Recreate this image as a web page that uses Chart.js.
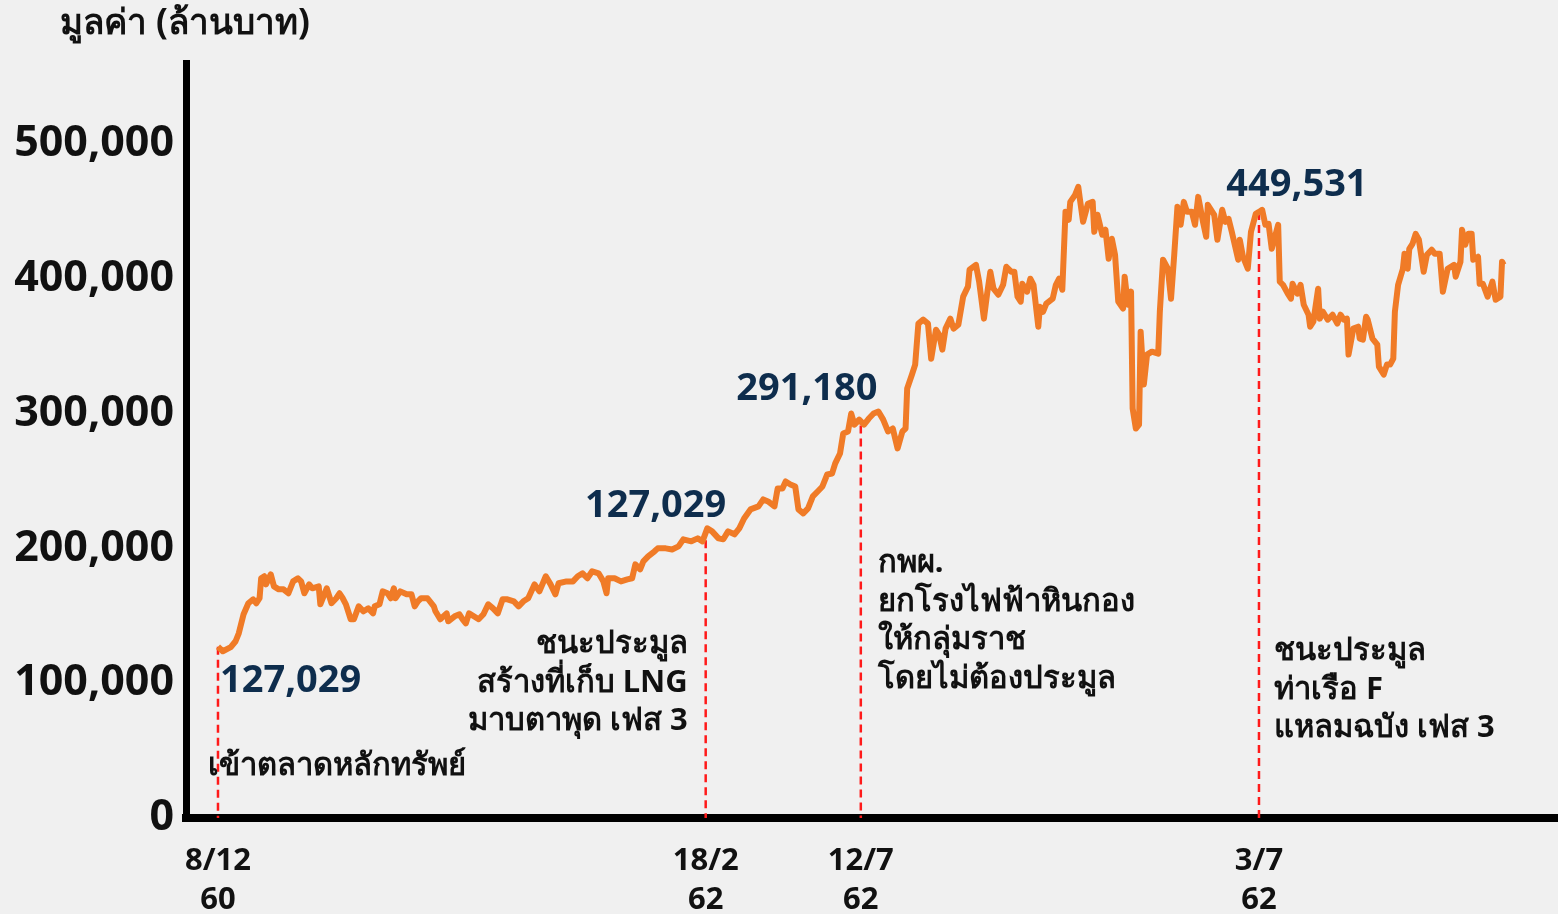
<!DOCTYPE html>
<html>
<head>
<meta charset="utf-8">
<script src="https://cdn.jsdelivr.net/npm/chart.js@4/dist/chart.umd.min.js"></script>
<style>
  html, body { margin: 0; padding: 0; background: #f0f0f0; }
  #wrap { width: 1558px; height: 914px; }
</style>
</head>
<body>
<div id="wrap"><canvas id="chart"></canvas></div>
<script>
// trading days since listing (8/12/60) and market value (million baht)
days = [0,3,8,11,13,16,19,22,24,26,27,29,30,33,35,38,41,44,47,50,52,54,57,59,63,64,68,71,74,76,78,80,83,85,88,91,94,97,98,101,103,106,108,110,111,114,118,121,123,125,127,131,135,
  136,139,143,144,148,151,153,155,157,160,163,166,169,172,175,178,181,185,188,191,194,198,201,205,208,211,213,218,222,225,228,231,234,238,241,243,244,248,252,256,259,261,264,266,269,273,
  275,280,284,288,291,296,300,303,306,309,313,316,319,323,326,329,333,338,341,344,348,350,353,355,358,361,363,366,369,372,375,378,381,384,386,389,391,394,396,398,401,404,407,410,
  413,416,419,422,425,428,430,431,434,436,438,441,444,446,449,451,453,455,458,460,463,466,469,470,474,476,479,481,483,485,488,491,493,496,498,500,502,503,506,508,510,513,514,516,518,522,524,526,528,530,532,533,536,538,539,541,544,547,
  548,550,553,555,557,559,561,563,566,567,569,571,572,574,576,577,579,581,584,588,589,591,594,596,598,600,602,604,606,609,611,613,616,618,619,623,625,628,630,632,634,638,639,641,644,646,649,651,653,655,657,659,663,664,666,669,671,672,675,677,679,682,683,685,
  688,689,691,694,697,700,702,704,706,707,710,713,714,716,718,719,722,725,726,729,731,733,735,736,738,741,742,744,745,747,749,751,754,756,759,761,764,766,769,773,774,777,778,780,782,784,785,788,789,791,794,797,799,802,803,804];

values = [127029,123700,126700,131100,137000,151100,159300,162200,159300,163000,177800,179300,173300,180700,171800,169600,169600,166700,175500,177800,175500,166700,173300,170400,171800,158500,170400,159300,163000,166700,163000,158500,147400,147400,157000,153300,155500,151800,157000,158500,168100,166700,163000,170400,163000,168100,165900,165900,157000,160700,163000,163000,157000,
  153300,147400,151800,145900,149600,151100,147400,144400,151800,149600,147400,151100,158500,155500,151800,162200,162200,160700,157000,160700,163000,173300,168100,179300,173300,165900,174100,175500,175500,179300,181500,177800,183000,181500,175500,166700,177800,177800,175500,177000,177800,188100,184400,190400,194100,197800,
  200000,200000,199200,201500,206700,205200,207400,205200,214800,212600,207400,206700,212600,210400,214800,222200,228900,231100,236300,234800,231100,244400,244400,249600,247400,245900,228900,225900,229600,238500,242200,245900,254800,255500,263000,270400,285200,286700,300000,291800,295500,291800,296300,300000,
  301500,295500,286700,288900,274100,286700,288900,318500,328900,336300,366700,369600,366700,340700,362200,358500,347400,363000,370400,363000,365900,386700,394100,406700,410300,397800,370400,388900,405200,392600,388100,395500,408900,405200,405200,386700,383000,396300,390400,400000,395500,364400,379200,375500,381500,385200,395500,400000,391800,449600,443700,457000,462200,468100,459200,442200,455500,457000,
  434800,447400,432600,436300,414800,429600,417700,383000,377800,401500,380700,390400,303700,288900,291800,360700,321500,343700,345900,344400,375500,414100,407400,385200,417700,453300,440000,457000,449600,449600,440000,460700,442200,431100,454800,447400,428900,451100,442200,444400,434800,414100,428900,416300,407400,434800,448100,449531,451100,440000,440700,422200,440000,397800,395500,388900,385200,396300,388900,395500,380700,373300,364400,368100,
  392600,370400,375500,369600,373300,366700,373300,369600,370400,343700,363000,364400,355500,354800,371800,369600,355500,351100,334800,328900,336300,336300,340700,375500,395500,407400,418500,407400,422200,425900,433300,428900,405200,417700,421500,418500,418500,390400,407400,410300,401500,412600,436300,425200,433300,433300,414100,416300,396300,396300,386700,397800,384400,386700,412600,410300];

// events marked with dashed lines
eventDays = [0, 305, 402, 651];
eventValues = [127029, 206000, 291180, 449531];
eventDates = [['8/12', '60'], ['18/2', '62'], ['12/7', '62'], ['3/7', '62']];
valueLabels = ['127,029', '127,029', '291,180', '449,531'];
eventNotes = [
  ['เข้าตลาดหลักทรัพย์'],
  ['ชนะประมูล', 'สร้างที่เก็บ LNG', 'มาบตาพุด เฟส 3'],
  ['กพผ.', 'ยกโรงไฟฟ้าหินกอง', 'ให้กลุ่มราช', 'โดยไม่ต้องประมูล'],
  ['ชนะประมูล', 'ท่าเรือ F', 'แหลมฉบัง เฟส 3']
];
yTicks = [0, 100000, 200000, 300000, 400000, 500000];
yTitle = 'มูลค่า (ล้านบาท)';

const FONT = "'Noto Sans', 'DejaVu Sans', sans-serif";

// where the texts sit, relative to each event line
const valuePos = [
  {dx: 2, align: 'left', v: 101500},
  {dx: -50, align: 'center', v: 231000},
  {dx: -54, align: 'center', v: 318000},
  {dx: 38, align: 'center', v: 469600}
];
const notePos = [
  {dx: -10, align: 'left', v: 38500},
  {dx: -18, align: 'right', v: 128900},
  {dx: 17, align: 'left', v: 188900},
  {dx: 15, align: 'left', v: 123700}
];

const notesPlugin = {
  id: 'notes',
  beforeDatasetsDraw(chart) {
    const {ctx, scales: {x, y}} = chart;
    ctx.save();
    ctx.strokeStyle = '#ff1a1a';
    ctx.lineWidth = 2.5;
    ctx.setLineDash([8, 5]);
    eventDays.forEach((d, i) => {
      const px = x.getPixelForValue(d);
      ctx.beginPath();
      ctx.moveTo(px, y.getPixelForValue(eventValues[i]));
      ctx.lineTo(px, y.getPixelForValue(0));
      ctx.stroke();
    });
    ctx.restore();
  },
  afterDraw(chart) {
    const {ctx, scales: {x, y}} = chart;
    ctx.save();
    ctx.textBaseline = 'middle';

    // axis title
    ctx.fillStyle = '#111';
    ctx.font = "bold 35px " + FONT;
    ctx.textAlign = 'left';
    ctx.fillText(yTitle, 60, 24);

    eventDays.forEach((d, i) => {
      const px = x.getPixelForValue(d);
      // value labels
      ctx.fillStyle = '#0e2d4d';
      ctx.font = "bold 38px " + FONT;
      ctx.textAlign = valuePos[i].align;
      ctx.fillText(valueLabels[i], px + valuePos[i].dx, y.getPixelForValue(valuePos[i].v));
      // notes
      ctx.fillStyle = '#111';
      ctx.font = "bold 31px " + FONT;
      ctx.textAlign = notePos[i].align;
      const y0 = y.getPixelForValue(notePos[i].v);
      eventNotes[i].forEach((line, k) => {
        ctx.fillText(line, px + notePos[i].dx, y0 + k * 38.5);
      });
    });
    ctx.restore();
  }
};

const data = {
  datasets: [{
    label: 'มูลค่า',
    data: days.map((d, i) => ({x: d, y: values[i]})),
    borderColor: '#f07b27',
    borderWidth: 6,
    borderJoinStyle: 'round',
    pointRadius: 0,
    tension: 0
  }]
};

const options = {
  responsive: true,
  maintainAspectRatio: false,
  animation: false,
  layout: { padding: { top: 63, left: 0, right: 0, bottom: 0 } },
  plugins: { legend: { display: false }, tooltip: { enabled: false } },
  scales: {
    x: {
      type: 'linear',
      min: -20,
      max: 838,
      grid: { display: false, drawTicks: false },
      border: { display: true, color: '#000', width: 8 },
      afterBuildTicks: (scale) => { scale.ticks = eventDays.map(v => ({value: v})); },
      afterFit: (scale) => { scale.height = 96; },
      ticks: {
        autoSkip: false,
        maxRotation: 0,
        padding: 24,
        color: '#111',
        font: { family: FONT, size: 31, weight: 'bold', lineHeight: 1.25 },
        callback: (v) => eventDates[eventDays.indexOf(v)]
      }
    },
    y: {
      min: 0,
      max: 560000,
      grid: { display: false, drawTicks: false },
      border: { display: true, color: '#000', width: 7 },
      afterBuildTicks: (scale) => { scale.ticks = yTicks.map(v => ({value: v})); },
      afterFit: (scale) => { scale.width = 186; },
      ticks: {
        padding: 12,
        color: '#111',
        font: { family: FONT, size: 43, weight: 'bold' },
        callback: (v) => v.toLocaleString('en-US')
      }
    }
  }
};

const ctx = document.getElementById('chart').getContext('2d');
myChart = new Chart(ctx, {
  type: 'line',
  data: data,
  options: options,
  plugins: [notesPlugin]
});
</script>
</body>
</html>
